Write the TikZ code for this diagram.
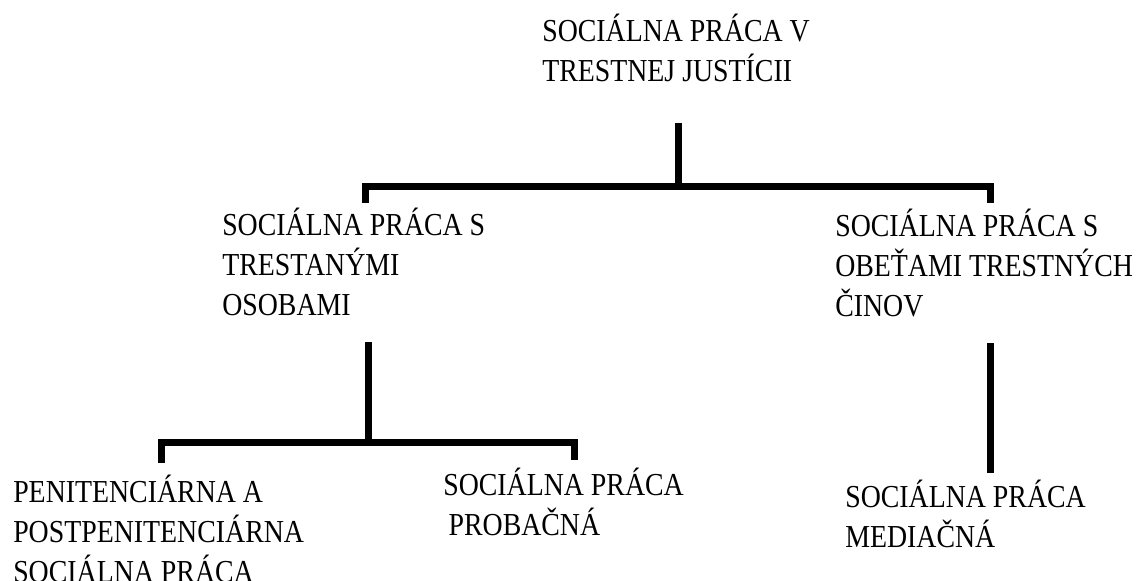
\documentclass[tikz,border=0pt]{standalone}
\usepackage{fontspec}
\setmainfont[FakeStretch=0.87]{Liberation Serif}
\begin{document}
\begin{tikzpicture}[
  x=0.75pt, y=-0.75pt,
  every node/.style={font=\fontsize{24}{30}\selectfont},
  entry/.style={anchor=base west, align=left, inner sep=0pt},
  bracket/.style={draw=black, line width=5.25pt}
]
\useasboundingbox (0,0) rectangle (1141,581);

% Top level
\node[entry] (root) at (542,82) {SOCIÁLNA PRÁCA V\\TRESTNEJ JUSTÍCII};

% Second level
\node[entry] (offenders) at (222,315) {SOCIÁLNA PRÁCA S\\TRESTANÝMI\\OSOBAMI};
\node[entry] (victims) at (835,316) {SOCIÁLNA PRÁCA S\\OBEŤAMI TRESTNÝCH\\ČINOV};

% Third level
\node[entry] (prison) at (13,582) {PENITENCIÁRNA A\\POSTPENITENCIÁRNA\\SOCIÁLNA PRÁCA};
\node[entry] (probation) at (443,535) {SOCIÁLNA PRÁCA\\\hspace*{4pt}PROBAČNÁ};
\node[entry] (mediation) at (845,547) {SOCIÁLNA PRÁCA\\MEDIAČNÁ};

% Connector points
\coordinate (root stem) at (678,123);
\coordinate (root join) at (678,186);
\coordinate (offenders in) at (365,203);
\coordinate (victims in) at (990,203);
\coordinate (offenders stem) at (368,342);
\coordinate (offenders join) at (368,442);
\coordinate (prison in) at (161,463);
\coordinate (probation in) at (574,460);
\coordinate (victims stem) at (990,343);
\coordinate (mediation in) at (990,473);

% Connectors
\draw[bracket] (root stem) -- (root join);
\draw[bracket] (offenders in) -- (offenders in |- root join)
  -- (victims in |- root join) -- (victims in);
\draw[bracket] (offenders stem) -- (offenders join);
\draw[bracket] (prison in) -- (prison in |- offenders join)
  -- (probation in |- offenders join) -- (probation in);
\draw[bracket] (victims stem) -- (mediation in);

\end{tikzpicture}
\end{document}
